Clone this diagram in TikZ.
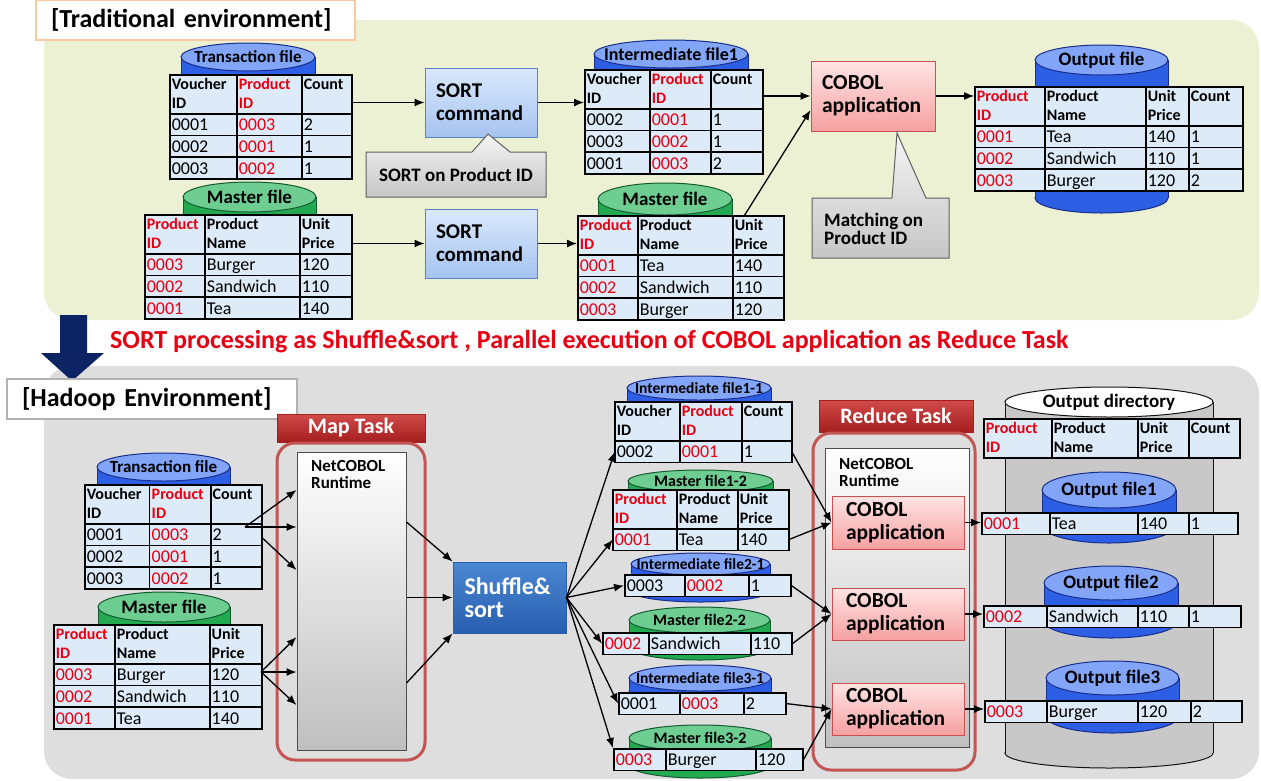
\documentclass[tikz,border=0pt]{standalone}
\usepackage{fontspec}
\setmainfont{Carlito}
\usetikzlibrary{matrix,calc,arrows.meta}

\newcommand{\fsz}[2]{\fontsize{#1}{#2}\selectfont}
\newcommand{\datafont}{\fsz{18}{20}}
\newcommand{\hdfont}{\bfseries\fsz{16}{19}}

\definecolor{cellblue}{RGB}{221,235,248}
\definecolor{idred}{RGB}{230,0,18}
\definecolor{bggreen}{RGB}{235,241,210}
\definecolor{bggray}{RGB}{222,222,222}
\definecolor{navy}{RGB}{12,36,100}
\definecolor{titleorange}{RGB}{250,200,160}
\definecolor{bTop}{RGB}{130,165,248}
\definecolor{bBody}{RGB}{45,95,228}
\definecolor{bEdge}{RGB}{25,45,140}
\definecolor{gTop}{RGB}{110,205,145}
\definecolor{gBody}{RGB}{35,170,80}
\definecolor{gEdge}{RGB}{20,90,50}
\definecolor{wTop}{RGB}{255,255,255}
\definecolor{wBody}{RGB}{200,200,200}
\definecolor{wEdge}{RGB}{20,20,20}
\definecolor{sortTop}{RGB}{218,232,252}
\definecolor{sortBot}{RGB}{165,195,240}
\definecolor{sortEdge}{RGB}{90,130,200}
\definecolor{cobTop}{RGB}{255,228,228}
\definecolor{cobBot}{RGB}{245,160,160}
\definecolor{cobEdge}{RGB}{200,80,80}
\definecolor{shufTop}{RGB}{75,135,210}
\definecolor{shufBot}{RGB}{40,95,175}
\definecolor{taskTop}{RGB}{210,75,75}
\definecolor{taskBot}{RGB}{165,30,30}
\definecolor{frameRed}{RGB}{195,85,85}

% cylinder: name, cx, ytop, ybottom, rx, ry, colour prefix, label
\newcommand{\dbcyl}[8]{%
  \path[fill=#7Body, draw=#7Edge, line width=1pt] (#2,{#4-#6}) ellipse[x radius=#5, y radius=#6];
  \fill[#7Body] ({#2-#5},{#3+#6}) rectangle ({#2+#5},{#4-#6});
  \draw[#7Edge, line width=1pt] ({#2-#5},{#3+#6}) -- ({#2-#5},{#4-#6})
    ({#2+#5},{#3+#6}) -- ({#2+#5},{#4-#6});
  \path[fill=#7Top, draw=#7Edge, line width=1pt] (#2,{#3+#6}) ellipse[x radius=#5, y radius=#6];
  \node[cyllabel] (#1) at (#2,{#3+#6}) {#8};
}

\begin{document}
\begin{tikzpicture}[x=1pt,y=-1pt,
    arr/.style={-{Latex[length=10pt,width=8pt]}, line width=1.3pt},
    cellbox/.style={draw=black, line width=1.5pt, fill=cellblue, align=left,
      inner xsep=2pt, inner ysep=0pt, outer sep=0pt, font=\datafont,
      text height=15pt, text depth=3pt, minimum height=21.7pt},
    tbl/.style={matrix of nodes, anchor=north west, inner sep=0pt, outer sep=0pt,
      column sep=-1.5pt, row sep=-1.5pt, nodes={cellbox}},
    hdrow/.style={row 1/.style={nodes={font=\hdfont, text height=13pt,
      text depth=23pt, minimum height=39pt}}},
    cw/.style 2 args={column #1/.style={nodes={text width=#2}}},
    cwr/.style 2 args={column #1/.style={nodes={text width=#2, text=idred}}},
    cyllabel/.style={inner sep=0pt, font=\bfseries\fsz{19}{19}},
    titlebox/.style={fill=white, line width=1.5pt, minimum height=40, inner xsep=15pt,
      inner ysep=0pt, align=left, font=\bfseries\fsz{26}{26}},
    sortbox/.style={draw=sortEdge, line width=1pt, top color=sortTop, bottom color=sortBot,
      minimum width=112, minimum height=69, text width=90pt, align=left, inner sep=0pt,
      font=\bfseries\fsz{21}{23}},
    cobolbox/.style={draw=cobEdge, line width=1pt, top color=cobTop, bottom color=cobBot,
      align=left, inner sep=0pt, font=\bfseries\fsz{21.5}{23}},
    shufbox/.style={draw=shufBot, line width=1pt, top color=shufTop, bottom color=shufBot,
      minimum width=113, minimum height=71, text width=90pt, align=left, inner sep=0pt,
      text=white, font=\bfseries\fsz{24}{23}},
    tipshape/.style={draw=gray!75!black, line width=1pt, top color=gray!8, bottom color=gray!45},
    tiptext/.style={inner sep=0pt, font=\bfseries\fsz{19}{18}},
    tasklbl/.style={top color=taskTop, bottom color=taskBot, draw=taskBot, inner sep=0pt,
      text=white, font=\bfseries\fsz{22}{22}},
    taskframe/.style={draw=frameRed, line width=3pt, rounded corners=18pt, inner sep=0pt},
    nrtbox/.style={draw=gray!60!black, line width=1pt, top color=white, bottom color=gray!50,
      inner sep=0pt},
    nrttext/.style={anchor=north west, align=left, inner sep=0pt, font=\bfseries\fsz{17}{17}}]

    \useasboundingbox (0,0) rectangle (1261,780);

    % Backgrounds
    \fill[bggreen, rounded corners=28pt] (44,20) rectangle (1259,320);
    \fill[bggray, rounded corners=28pt] (44,366) rectangle (1259,779);

    % Down arrow and summary
    \fill[navy] (60,315) -- (87,315) -- (87,353) -- (104,353) -- (72,381)
      -- (41,353) -- (60,353) -- cycle;
    \node[anchor=base west, inner sep=0pt, text=idred, font=\bfseries\fsz{26}{26}]
      (summary) at (110,348)
      {SORT processing as Shuffle\&sort , Parallel execution of COBOL application as Reduce Task};

    % Titles
    \node[titlebox, draw=titleorange, text width=289pt] (tradtitle) at (195.5,20)
      {[Traditional environment]};
    \node[titlebox, draw=gray!60, text width=260pt] (hadtitle) at (152,399)
      {[Hadoop Environment]};

    % ---------------- Traditional environment ----------------
    % Files
    \dbcyl{transcyl}{248}{43}{90}{67}{14}{b}{\fsz{17}{17}Transaction file}
    \dbcyl{mastercyl}{249.5}{182}{230}{66.5}{15}{g}{Master file}
    \dbcyl{intercyl}{671}{40}{90}{77}{14}{b}{\fsz{18}{18}Intermediate file1}
    \dbcyl{msortcyl}{665}{183}{240}{67}{16}{g}{Master file}
    \dbcyl{outcyl}{1101.5}{45}{213}{66.5}{15}{b}{Output file}

    \matrix[tbl, hdrow, cw={1}{63pt}, cwr={2}{61pt}, cw={3}{46pt}] (trans) at (169,74) {
      {Voucher\\ID} & {Product\\ID} & Count \\
      0001 & 0003 & 2 \\
      0002 & 0001 & 1 \\
      0003 & 0002 & 1 \\
    };
    \matrix[tbl, hdrow, cwr={1}{56pt}, cw={2}{91pt}, cw={3}{48pt}] (master) at (144,214) {
      {Product\\ID} & {Product\\Name} & {Unit\\Price} \\
      0003 & Burger & 120 \\
      0002 & Sandwich & 110 \\
      0001 & Tea & 140 \\
    };
    \matrix[tbl, hdrow, cw={1}{61pt}, cwr={2}{57pt}, cw={3}{48pt}] (inter1) at (584,69) {
      {Voucher\\ID} & {Product\\ID} & Count \\
      0002 & 0001 & 1 \\
      0003 & 0002 & 1 \\
      0001 & 0003 & 2 \\
    };
    \matrix[tbl, hdrow, cwr={1}{56pt}, cw={2}{91pt}, cw={3}{47pt}] (msorted) at (577,215) {
      {Product\\ID} & {Product\\Name} & {Unit\\Price} \\
      0001 & Tea & 140 \\
      0002 & Sandwich & 110 \\
      0003 & Burger & 120 \\
    };
    \matrix[tbl, hdrow, cwr={1}{66pt}, cw={2}{97pt}, cw={3}{39pt}, cw={4}{50pt}] (outfile) at (974,86) {
      {Product\\ID} & {Product\\Name} & {Unit\\Price} & Count \\
      0001 & Tea & 140 & 1 \\
      0002 & Sandwich & 110 & 1 \\
      0003 & Burger & 120 & 2 \\
    };

    % Processing
    \node[sortbox] (sort1) at (481,102.5) {SORT\\command};
    \node[sortbox] (sort2) at (481,243.5) {SORT\\command};
    \node[cobolbox, minimum width=124, minimum height=70, text width=102pt] (cobol)
      at (873,96) {COBOL\\application};

    % Notes
    \path[tipshape] (366,152) -- (472,152) -- (488,134) -- (510,152) -- (546,152)
      -- (546,197) -- (366,197) -- cycle;
    \node[tiptext] (sorttip) at (456,175) {SORT on Product ID};
    \path[tipshape] (812,198) -- (892,198) -- (897,133) -- (926,198) -- (949,198)
      -- (949,258) -- (812,258) -- cycle;
    \node[tiptext, anchor=west, align=left] (matchtip) at (824,229) {Matching on\\Product ID};

    % Flow
    \draw[arr] (sort1.west -| trans.east) -- (sort1.west);
    \draw[arr] (sort2.west -| master.east) -- (sort2.west);
    \draw[arr] (sort1.east) -- (sort1.east -| inter1.west);
    \draw[arr] (sort2.east) -- (sort2.east -| msorted.west);
    \draw[arr] (cobol.west -| inter1.east) -- (cobol.west);
    \draw[arr] ([xshift=-14pt]msorted-1-3.north) -- ([yshift=-14pt]cobol.west);
    \draw[arr] (cobol.east) -- (cobol.east -| outfile.west);

    % ---------------- Hadoop environment ----------------
    % Map task
    \node[tasklbl, minimum width=148, minimum height=28] (maplbl) at (351,428) {Map Task};
    \node[taskframe, minimum width=148, minimum height=317] (mapframe) at (351,601.5) {};
    \node[nrtbox, minimum width=109, minimum height=298] (nrt1) at (351.5,601) {};
    \node[nrttext] (nrt1txt) at (311,460) {NetCOBOL\\Runtime};

    % Reduce task
    \node[tasklbl, minimum width=154, minimum height=32] (redlbl) at (896,416) {Reduce Task};
    \node[taskframe, minimum width=162, minimum height=337] (redframe) at (894,601.5) {};
    \node[nrtbox, minimum width=144, minimum height=299] (nrt2) at (897,597.5) {};
    \node[nrttext] (nrt2txt) at (839,458) {NetCOBOL\\Runtime};
    \node[cobolbox, minimum width=132, minimum height=53, text width=104pt] (ca1)
      at (898,522.5) {COBOL\\application};
    \node[cobolbox, minimum width=132, minimum height=52, text width=104pt] (ca2)
      at (898,614) {COBOL\\application};
    \node[cobolbox, minimum width=132, minimum height=52, text width=104pt] (ca3)
      at (898,709) {COBOL\\application};

    \node[shufbox] (shuffle) at (509.5,597.5) {Shuffle\&\\sort};

    % Input files
    \dbcyl{htranscyl}{163.5}{453}{500}{66.5}{14}{b}{\fsz{17}{17}Transaction file}
    \dbcyl{hmastercyl}{164}{592}{640}{66}{15}{g}{Master file}
    \matrix[tbl, hdrow, cw={1}{61pt}, cwr={2}{57pt}, cw={3}{47pt}] (htrans) at (84,484) {
      {Voucher\\ID} & {Product\\ID} & Count \\
      0001 & 0003 & 2 \\
      0002 & 0001 & 1 \\
      0003 & 0002 & 1 \\
    };
    \matrix[tbl, hdrow, cwr={1}{57pt}, cw={2}{91pt}, cw={3}{48pt}] (hmaster) at (53,624) {
      {Product\\ID} & {Product\\Name} & {Unit\\Price} \\
      0003 & Burger & 120 \\
      0002 & Sandwich & 110 \\
      0001 & Tea & 140 \\
    };

    % Intermediate files
    \dbcyl{i11cyl}{699}{376}{420}{72}{12}{b}{\fsz{15.5}{15.5}Intermediate file1-1}
    \dbcyl{m12cyl}{700.5}{470}{510}{72.5}{11}{g}{\fsz{16}{16}Master file1-2}
    \dbcyl{i21cyl}{700.5}{553}{602}{69.5}{11}{b}{\fsz{15.5}{15.5}Intermediate file2-1}
    \dbcyl{m22cyl}{699.5}{607}{660}{70.5}{13}{g}{\fsz{16}{16}Master file2-2}
    \dbcyl{i31cyl}{700}{665}{705}{71}{13}{b}{\fsz{15.5}{15.5}Intermediate file3-1}
    \dbcyl{m32cyl}{700}{725}{778}{71}{13}{g}{\fsz{16}{16}Master file3-2}

    \matrix[tbl, hdrow, cw={1}{61pt}, cwr={2}{58pt}, cw={3}{46pt}] (i11) at (614,401) {
      {Voucher\\ID} & {Product\\ID} & Count \\
      0002 & 0001 & 1 \\
    };
    \matrix[tbl, hdrow, cwr={1}{60pt}, cw={2}{57pt}, cw={3}{47pt}] (m12) at (612,489) {
      {Product\\ID} & {Product\\Name} & {Unit\\Price} \\
      0001 & Tea & 140 \\
    };
    \matrix[tbl, cw={1}{56pt}, cwr={2}{60pt}, cw={3}{38pt}] (i21) at (624,574) {
      0003 & 0002 & 1 \\
    };
    \matrix[tbl, cwr={1}{42pt}, cw={2}{98pt}, cw={3}{37pt}] (m22) at (602,632) {
      0002 & Sandwich & 110 \\
    };
    \matrix[tbl, cw={1}{57pt}, cwr={2}{60pt}, cw={3}{38pt}] (i31) at (618,692) {
      0001 & 0003 & 2 \\
    };
    \matrix[tbl, cwr={1}{48pt}, cw={2}{86pt}, cw={3}{43pt}] (m32) at (613,748) {
      0003 & Burger & 120 \\
    };

    % Output directory
    \dbcyl{odircyl}{1109}{387}{768}{104}{15}{w}{Output directory}
    \matrix[tbl, hdrow, cwr={1}{64pt}, cw={2}{82pt}, cw={3}{47pt}, cw={4}{47pt}] (odhdr) at (983,418) {
      {Product\\ID} & {Product\\Name} & {Unit\\Price} & Count \\
    };
    \dbcyl{of1cyl}{1109}{472}{543}{67}{18}{b}{Output file1}
    \dbcyl{of2cyl}{1111}{566}{638}{67}{17}{b}{Output file2}
    \dbcyl{of3cyl}{1112.5}{661}{733}{66.5}{17}{b}{Output file3}
    \matrix[tbl, cwr={1}{64pt}, cw={2}{84pt}, cw={3}{47pt}, cw={4}{45pt}] (o1) at (981,512) {
      0001 & Tea & 140 & 1 \\
    };
    \matrix[tbl, cwr={1}{59pt}, cw={2}{87pt}, cw={3}{47pt}, cw={4}{48pt}] (o2) at (983,605) {
      0002 & Sandwich & 110 & 1 \\
    };
    \matrix[tbl, cwr={1}{58pt}, cw={2}{87pt}, cw={3}{49pt}, cw={4}{47pt}] (o3) at (984,700) {
      0003 & Burger & 120 & 2 \\
    };

    % Into the map task
    \coordinate (tfan) at (245,527);
    \coordinate (mfan) at (261,672);
    \draw[arr] (tfan) -- ($(tfan -| nrt1.west)+(0,-37)$);
    \draw[arr] (tfan) -- (tfan -| nrt1.west);
    \draw[arr] ($(tfan -| htrans.east)+(0,11)$) -- ($(tfan -| nrt1.west)+(0,43)$);
    \foreach \dy in {-35,0,33}
      \draw[arr] (mfan) -- ($(mfan -| nrt1.west)+(0,\dy)$);

    % Map task to shuffle
    \draw[arr] ($(nrt1.east)+(0,-79)$) -- (shuffle.north west);
    \draw[arr] (nrt1.east |- shuffle.west) -- (shuffle.west);
    \draw[arr] ($(nrt1.east)+(0,82)$) -- (shuffle.south west);

    % Shuffle to intermediate files
    \foreach \t in {i11-2-1.west, m12-2-1.west, i21.west, m22.west, i31.west, m32.north west}
      \draw[arr] (shuffle.east) -- (\t);

    % Intermediate files to reduce task
    \foreach \s/\t in {i11-2-3/ca1, m12-2-3/ca1, i21/ca2, m22/ca2, i31/ca3, m32/ca3}
      \draw[arr] (\s.east) -- (\t.west);

    % Reduce task to output files
    \foreach \c/\o in {ca1/o1, ca2/o2, ca3/o3}
      \draw[arr] (\c.east) -- (\c.east -| \o.west);

\end{tikzpicture}
\end{document}
